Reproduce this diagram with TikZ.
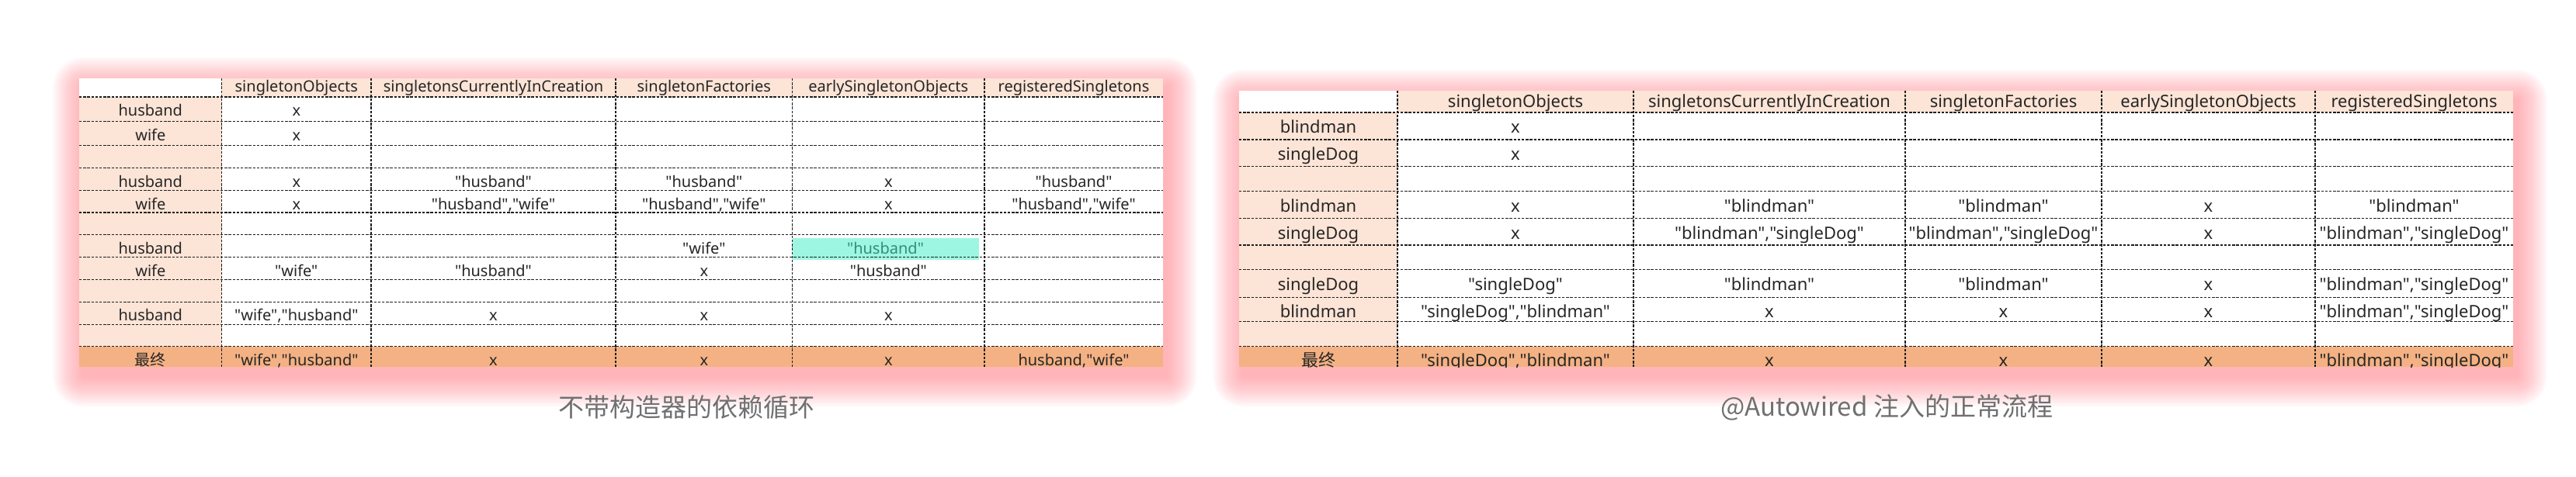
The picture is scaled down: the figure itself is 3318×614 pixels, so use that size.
\documentclass[tikz,border=0pt]{standalone}
\usepackage{fontspec}
\newfontfamily\cellfont{Noto Sans}
\newfontfamily\cjkfont{Noto Sans CJK SC}
\definecolor{hdr}{RGB}{252,228,214}
\definecolor{lastrow}{RGB}{244,177,131}
\definecolor{mint}{RGB}{157,246,226}
\definecolor{tealtxt}{RGB}{52,140,122}
\definecolor{glowc}{RGB}{255,135,145}
\definecolor{gridc}{RGB}{30,30,30}
\definecolor{txtc}{RGB}{38,38,38}
\definecolor{capc}{RGB}{112,112,112}
\tikzset{
  gridline/.style={draw=gridc, line width=1.3pt, dash pattern=on 3.4pt off 1.8pt},
  ltext/.style={anchor=base, inner sep=0pt, text=txtc, font=\cellfont\fontsize{20}{24}\selectfont},
  rtext/.style={anchor=base, inner sep=0pt, text=txtc, font=\cellfont\fontsize{22}{26}\selectfont},
  captext/.style={anchor=center, inner sep=0pt, text=capc, font=\cjkfont\fontsize{33}{40}\selectfont},
  glowlayer/.style={fill=glowc, fill opacity=0.028}
}
\begin{document}
\begin{tikzpicture}[x=1pt,y=-1pt]
\useasboundingbox (0,0) rectangle (3318,614);
\fill[white] (0,0) rectangle (3318,614);

% ---------- glows ----------
\foreach \i in {1,...,28}{
  \pgfmathsetmacro\e{\i*1.4}
  \fill[glowlayer, rounded corners=\e pt] ({107-\e},{113-\e}) rectangle ({1503+\e},{485.3+\e});
  \fill[glowlayer, rounded corners=\e pt] ({1601-\e},{128.7-\e}) rectangle ({3242+\e},{485.3+\e});
}

% ---------- left table ----------
\begin{scope}
\clip (102,101) rectangle (1498,473.3);
\fill[white] (102,101) rectangle (1498,473.3);
\fill[hdr] (285.6,101) rectangle (1498,125);
\fill[hdr] (102,125) rectangle (285.6,446.7);
\fill[lastrow] (102,446.7) rectangle (1498,473.3);
\fill[mint] (1020.5,307) rectangle (1260.5,334.5);
\foreach \y in {125,156.7,187.7,216.7,245.7,274,302.7,331.7,360.7,389.3,418.3,446.7}
  \draw[gridline] (102,\y) -- (1498,\y);
\foreach \x in {285.6,478,793,1020.5,1268}
  \draw[gridline] (\x,101) -- (\x,473.3);
% header
\node[ltext] (Lh1) at (381.8,118.5) {singletonObjects};
\node[ltext] (Lh2) at (635.5,118.5) {singletonsCurrentlyInCreation};
\node[ltext] (Lh3) at (906.8,118.5) {singletonFactories};
\node[ltext] (Lh4) at (1144.3,118.5) {earlySingletonObjects};
\node[ltext] (Lh5) at (1383,118.5) {registeredSingletons};
% row 1-2
\node[ltext] (L10) at (193.8,149.5) {husband};
\node[ltext] (L11) at (381.8,149.5) {x};
\node[ltext] (L20) at (193.8,181.2) {wife};
\node[ltext] (L21) at (381.8,181.2) {x};
% row 4-5
\node[ltext] (L40) at (193.8,241.2) {husband};
\node[ltext] (L41) at (381.8,241.2) {x};
\node[ltext] (L42) at (635.5,241.2) {"husband"};
\node[ltext] (L43) at (906.8,241.2) {"husband"};
\node[ltext] (L44) at (1144.3,241.2) {x};
\node[ltext] (L45) at (1383,241.2) {"husband"};
\node[ltext] (L50) at (193.8,270.2) {wife};
\node[ltext] (L51) at (381.8,270.2) {x};
\node[ltext] (L52) at (635.5,270.2) {"husband","wife"};
\node[ltext] (L53) at (906.8,270.2) {"husband","wife"};
\node[ltext] (L54) at (1144.3,270.2) {x};
\node[ltext] (L55) at (1383,270.2) {"husband","wife"};
% row 7-8
\node[ltext] (L70) at (193.8,327.2) {husband};
\node[ltext] (L73) at (906.8,327.2) {"wife"};
\node[ltext, text=tealtxt] (L74) at (1140.5,327.2) {"husband"};
\node[ltext] (L80) at (193.8,356.2) {wife};
\node[ltext] (L81) at (381.8,356.2) {"wife"};
\node[ltext] (L82) at (635.5,356.2) {"husband"};
\node[ltext] (L83) at (906.8,356.2) {x};
\node[ltext] (L84) at (1144.3,356.2) {"husband"};
% row 10
\node[ltext] (LA0) at (193.8,413.8) {husband};
\node[ltext] (LA1) at (381.8,413.8) {"wife","husband"};
\node[ltext] (LA2) at (635.5,413.8) {x};
\node[ltext] (LA3) at (906.8,413.8) {x};
\node[ltext] (LA4) at (1144.3,413.8) {x};
% last row
\node[ltext] (LC0) at (193.8,471.2) {\cjkfont 最终};
\node[ltext] (LC1) at (381.8,471.2) {"wife","husband"};
\node[ltext] (LC2) at (635.5,471.2) {x};
\node[ltext] (LC3) at (906.8,471.2) {x};
\node[ltext] (LC4) at (1144.3,471.2) {x};
\node[ltext] (LC5) at (1383,471.2) {husband,"wife"};
\end{scope}

% ---------- right table ----------
\begin{scope}
\clip (1596,116.7) rectangle (3237,473.3);
\fill[white] (1596,116.7) rectangle (3237,473.3);
\fill[hdr] (1800,116.7) rectangle (3237,145);
\fill[hdr] (1596,145) rectangle (1800,446.7);
\fill[lastrow] (1596,446.7) rectangle (3237,473.3);
\foreach \y in {145,180,214.3,246.7,281.7,316,347.7,383.3,414.3,446.7}
  \draw[gridline] (1596,\y) -- (3237,\y);
\foreach \x in {1800,2104,2454,2707,2982}
  \draw[gridline] (\x,116.7) -- (\x,473.3);
% header
\node[rtext] (Rh1) at (1952,138) {singletonObjects};
\node[rtext] (Rh2) at (2279,138) {singletonsCurrentlyInCreation};
\node[rtext] (Rh3) at (2580.5,138) {singletonFactories};
\node[rtext] (Rh4) at (2844.5,138) {earlySingletonObjects};
\node[rtext] (Rh5) at (3109.5,138) {registeredSingletons};
% rows 1-2
\node[rtext] (R10) at (1698,171.3) {blindman};
\node[rtext] (R11) at (1952,171.3) {x};
\node[rtext] (R20) at (1698,206.3) {singleDog};
\node[rtext] (R21) at (1952,206.3) {x};
% rows 4-5
\node[rtext] (R40) at (1698,273) {blindman};
\node[rtext] (R41) at (1952,273) {x};
\node[rtext] (R42) at (2279,273) {"blindman"};
\node[rtext] (R43) at (2580.5,273) {"blindman"};
\node[rtext] (R44) at (2844.5,273) {x};
\node[rtext] (R45) at (3109.5,273) {"blindman"};
\node[rtext] (R50) at (1698,308) {singleDog};
\node[rtext] (R51) at (1952,308) {x};
\node[rtext] (R52) at (2279,308) {"blindman","singleDog"};
\node[rtext] (R53) at (2580.5,308) {"blindman","singleDog"};
\node[rtext] (R54) at (2844.5,308) {x};
\node[rtext] (R55) at (3109.5,308) {"blindman","singleDog"};
% rows 7-8
\node[rtext] (R70) at (1698,374) {singleDog};
\node[rtext] (R71) at (1952,374) {"singleDog"};
\node[rtext] (R72) at (2279,374) {"blindman"};
\node[rtext] (R73) at (2580.5,374) {"blindman"};
\node[rtext] (R74) at (2844.5,374) {x};
\node[rtext] (R75) at (3109.5,374) {"blindman","singleDog"};
\node[rtext] (R80) at (1698,409.6) {blindman};
\node[rtext] (R81) at (1952,409.6) {"singleDog","blindman"};
\node[rtext] (R82) at (2279,409.6) {x};
\node[rtext] (R83) at (2580.5,409.6) {x};
\node[rtext] (R84) at (2844.5,409.6) {x};
\node[rtext] (R85) at (3109.5,409.6) {"blindman","singleDog"};
% last row
\node[rtext] (RC0) at (1698,472) {\cjkfont 最终};
\node[rtext] (RC1) at (1952,472) {"singleDog","blindman"};
\node[rtext] (RC2) at (2279,472) {x};
\node[rtext] (RC3) at (2580.5,472) {x};
\node[rtext] (RC4) at (2844.5,472) {x};
\node[rtext] (RC5) at (3109.5,472) {"blindman","singleDog"};
\end{scope}

% ---------- captions ----------
\node[captext] (capL) at (884,525) {不带构造器的依赖循环};
\node[captext] (capR) at (2430,525) {@Autowired 注入的正常流程};
\end{tikzpicture}
\end{document}
